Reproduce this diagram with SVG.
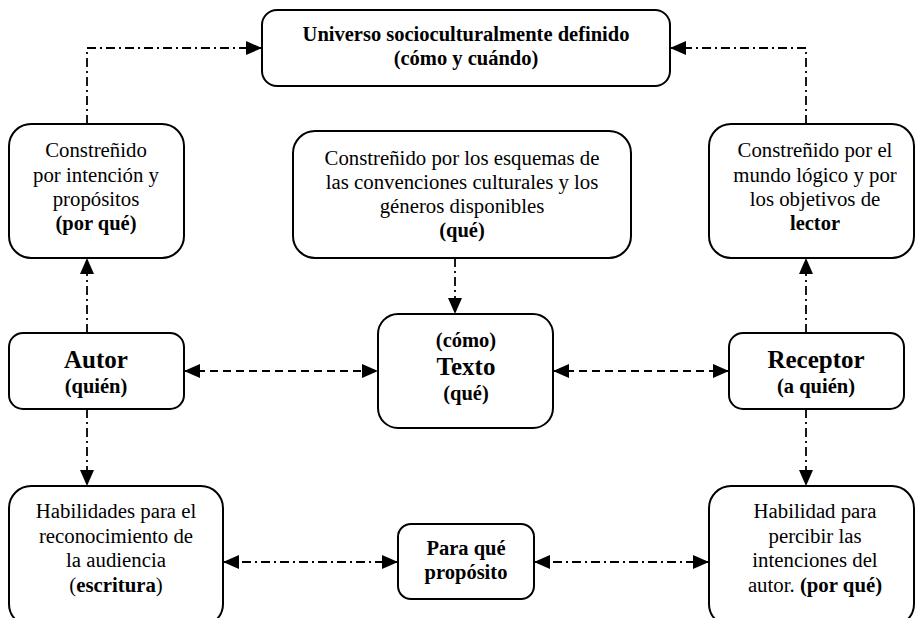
<svg xmlns="http://www.w3.org/2000/svg" width="917" height="618" viewBox="0 0 917 618">
<style>
.box{fill:#fff;stroke:#000;stroke-width:2}
text{font-family:"Liberation Serif","Times New Roman",serif;fill:#000;text-anchor:middle}
.r{font-size:20.8px}
.b{font-size:20.5px;font-weight:bold}
.big{font-size:25px;font-weight:bold}
.dd{fill:none;stroke:#000;stroke-width:1.8;stroke-dasharray:9 4 2 4}
.da{fill:none;stroke:#000;stroke-width:1.8;stroke-dasharray:8 5}
</style>
<defs>
<marker id="ah" viewBox="0 0 16 14" refX="16" refY="7" markerWidth="16" markerHeight="14" markerUnits="userSpaceOnUse" orient="auto-start-reverse">
<path d="M0,0 L16,7 L0,14 Z" fill="#000"/>
</marker>
</defs>
<g id="connectors">
<path class="dd" d="M87,124 V48 H262" marker-end="url(#ah)"/>
<path class="dd" d="M806,124 V48 H670" marker-end="url(#ah)"/>
<path class="dd" d="M87,333 V258" marker-end="url(#ah)"/>
<path class="dd" d="M87,409 V486" marker-end="url(#ah)"/>
<path class="dd" d="M806,333 V258" marker-end="url(#ah)"/>
<path class="dd" d="M806,409 V486" marker-end="url(#ah)"/>
<path class="dd" d="M455,258 V314" marker-end="url(#ah)"/>
<path class="da" d="M184,371 H378" marker-start="url(#ah)" marker-end="url(#ah)"/>
<path class="da" d="M553,371 H729" marker-start="url(#ah)" marker-end="url(#ah)"/>
<path class="dd" d="M223,562 H398" marker-start="url(#ah)" marker-end="url(#ah)"/>
<path class="dd" d="M534,562 H709" marker-start="url(#ah)" marker-end="url(#ah)"/>
</g>
<g id="universo">
<rect class="box" x="262" y="10" width="408" height="76" rx="15"/>
<text class="b" x="466" y="41">Universo socioculturalmente definido</text>
<text class="b" x="466" y="65">(cómo y cuándo)</text>
</g>
<g id="constr-autor">
<rect class="box" x="9" y="124" width="175" height="134" rx="22"/>
<text class="r" x="96" y="157">Constreñido</text>
<text class="r" x="96" y="182">por intención y</text>
<text class="r" x="96" y="206">propósitos</text>
<text class="b" x="96" y="230">(por qué)</text>
</g>
<g id="constr-texto">
<rect class="box" x="293" y="131" width="338" height="127" rx="22"/>
<text class="r" x="462" y="165">Constreñido por los esquemas de</text>
<text class="r" x="462" y="189">las convenciones culturales y los</text>
<text class="r" x="462" y="213">géneros disponibles</text>
<text class="b" x="462" y="237">(qué)</text>
</g>
<g id="constr-receptor">
<rect class="box" x="709" y="124" width="205" height="134" rx="22"/>
<text class="r" x="815" y="157">Constreñido por el</text>
<text class="r" x="815" y="182">mundo lógico y por</text>
<text class="r" x="815" y="206">los objetivos de</text>
<text class="b" x="815" y="230">lector</text>
</g>
<g id="autor">
<rect class="box" x="9" y="333" width="175" height="76" rx="14"/>
<text class="big" x="96" y="368">Autor</text>
<text class="b" x="96" y="393">(quién)</text>
</g>
<g id="texto">
<rect class="box" x="378" y="314" width="175" height="114" rx="20"/>
<text class="b" x="466" y="347">(cómo)</text>
<text class="big" x="466" y="375">Texto</text>
<text class="b" x="466" y="400">(qué)</text>
</g>
<g id="receptor">
<rect class="box" x="729" y="333" width="175" height="76" rx="14"/>
<text class="big" x="816" y="368">Receptor</text>
<text class="b" x="816" y="393">(a quién)</text>
</g>
<g id="hab-autor">
<rect class="box" x="9" y="486" width="214" height="140" rx="22"/>
<text class="r" x="116" y="518">Habilidades para el</text>
<text class="r" x="116" y="543">reconocimiento de</text>
<text class="r" x="116" y="567">la audiencia</text>
<text class="r" x="116" y="592">(<tspan font-weight="bold">escritura</tspan>)</text>
</g>
<g id="para-que">
<rect class="box" x="398" y="524" width="136" height="75" rx="13"/>
<text class="b" x="466" y="555">Para qué</text>
<text class="b" x="466" y="579">propósito</text>
</g>
<g id="hab-receptor">
<rect class="box" x="709" y="486" width="205" height="140" rx="22"/>
<text class="r" x="815" y="518">Habilidad para</text>
<text class="r" x="815" y="543">percibir las</text>
<text class="r" x="815" y="567">intenciones del</text>
<text class="r" x="815" y="592">autor. <tspan font-weight="bold">(por qué)</tspan></text>
</g>
</svg>
